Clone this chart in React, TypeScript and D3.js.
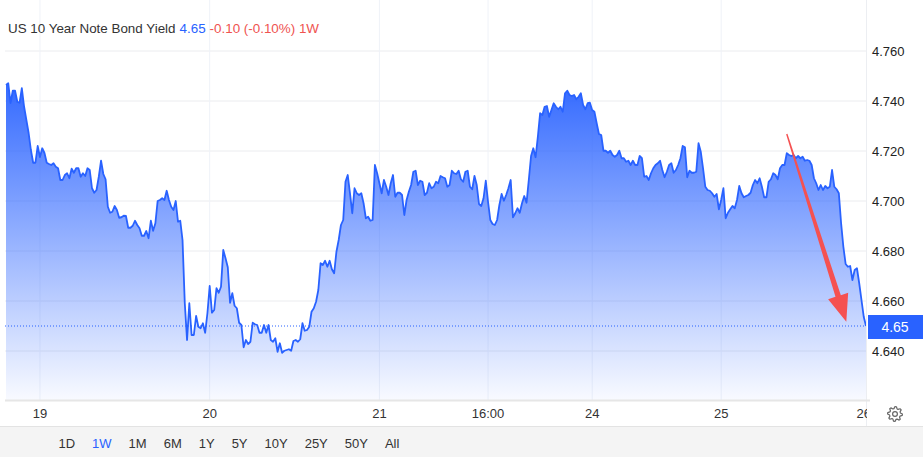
import React from 'react';
import * as d3 from 'd3';

const svgWidth = 923;
const svgHeight = 457;
const plot = { left: 5, right: 866, top: 0, bottom: 400 };
const FONT = "Arial, 'Liberation Sans', sans-serif";

// US 10Y yield, one week of intraday readings (oldest first)
const yields = [
  4.7464, 4.7471, 4.7392, 4.7441, 4.7441, 4.7397, 4.7393, 4.7451, 4.7377, 4.7324,
  4.7272, 4.7204, 4.7153, 4.7153, 4.722, 4.7176, 4.7211, 4.7192, 4.7153, 4.7148,
  4.7144, 4.7151, 4.7137, 4.7131, 4.7084, 4.7084, 4.7104, 4.7111, 4.7091, 4.7129,
  4.7113, 4.7131, 4.7131, 4.7097, 4.7111, 4.71, 4.7131, 4.7124, 4.7051, 4.7033,
  4.7044, 4.7097, 4.7161, 4.7108, 4.7087, 4.6977, 4.6953, 4.6957, 4.698, 4.6964,
  4.6933, 4.6935, 4.6941, 4.694, 4.6893, 4.6893, 4.6901, 4.6921, 4.6904, 4.6891,
  4.6861, 4.6861, 4.688, 4.6851, 4.6921, 4.6881, 4.6911, 4.7, 4.7004, 4.7011,
  4.7004, 4.7041, 4.7004, 4.6977, 4.6964, 4.7, 4.6917, 4.6921, 4.6844, 4.6591,
  4.6444, 4.6591, 4.6464, 4.6464, 4.654, 4.6497, 4.6491, 4.6511, 4.6473, 4.6551,
  4.666, 4.6553, 4.6564, 4.6651, 4.6633, 4.6657, 4.6804, 4.6771, 4.6735, 4.6593,
  4.6631, 4.6581, 4.6571, 4.6513, 4.6504, 4.6415, 4.6444, 4.6428, 4.6437, 4.6513,
  4.6507, 4.6504, 4.6473, 4.6473, 4.6504, 4.6473, 4.6504, 4.6444, 4.6437, 4.6451,
  4.6397, 4.6431, 4.6393, 4.6401, 4.6404, 4.6407, 4.6401, 4.644, 4.6444, 4.6437,
  4.6447, 4.6511, 4.6481, 4.6484, 4.6497, 4.6557, 4.6571, 4.6597, 4.6644, 4.6751,
  4.6744, 4.6761, 4.6737, 4.6761, 4.6727, 4.6711, 4.6797, 4.6844, 4.6904, 4.6924,
  4.7077, 4.7104, 4.7031, 4.6951, 4.7051, 4.7031, 4.7024, 4.7031, 4.6991, 4.6931,
  4.6937, 4.6921, 4.6924, 4.7144, 4.7111, 4.7071, 4.7031, 4.7084, 4.7057, 4.7024,
  4.7071, 4.7104, 4.7017, 4.7033, 4.7033, 4.7024, 4.6944, 4.7004, 4.7037, 4.7064,
  4.7117, 4.7121, 4.7064, 4.7081, 4.7077, 4.7024, 4.7033, 4.7071, 4.7051, 4.7057,
  4.7077, 4.7071, 4.71, 4.7095, 4.7091, 4.7057, 4.7064, 4.7121, 4.7111, 4.7108,
  4.7121, 4.7087, 4.7077, 4.7117, 4.7121, 4.7057, 4.7047, 4.71, 4.7064, 4.6988,
  4.698, 4.7011, 4.7081, 4.6997, 4.6924, 4.6908, 4.6904, 4.6924, 4.6984, 4.7028,
  4.7001, 4.7024, 4.7051, 4.7084, 4.6935, 4.6951, 4.6971, 4.6953, 4.6991, 4.702,
  4.6993, 4.7084, 4.718, 4.7211, 4.7175, 4.7257, 4.7351, 4.7344, 4.7377, 4.738,
  4.7337, 4.7364, 4.7391, 4.7377, 4.7367, 4.7377, 4.7357, 4.7431, 4.7441, 4.7424,
  4.742, 4.7424, 4.7407, 4.7417, 4.7431, 4.7384, 4.7367, 4.7391, 4.7393, 4.7364,
  4.7357, 4.7311, 4.7268, 4.7264, 4.7201, 4.7201, 4.7193, 4.7201, 4.7184, 4.7177,
  4.7184, 4.7201, 4.7171, 4.7171, 4.7157, 4.7161, 4.7144, 4.7161, 4.7144, 4.7144,
  4.718, 4.7171, 4.7097, 4.71, 4.7084, 4.7111, 4.7131, 4.7144, 4.7151, 4.7161,
  4.7124, 4.7095, 4.7117, 4.7144, 4.7151, 4.7113, 4.7124, 4.7144, 4.7171, 4.722,
  4.7215, 4.7095, 4.7121, 4.7113, 4.7113, 4.7117, 4.7231, 4.7197, 4.7131, 4.7057,
  4.7044, 4.7041, 4.7031, 4.7017, 4.7028, 4.6967, 4.7004, 4.7051, 4.6931, 4.6953,
  4.6967, 4.698, 4.6971, 4.7004, 4.706, 4.7031, 4.7015, 4.702, 4.7024, 4.7033,
  4.7064, 4.7084, 4.7071, 4.7091, 4.7057, 4.7015, 4.7015, 4.7077, 4.7087, 4.7111,
  4.7104, 4.7087, 4.7131, 4.7144, 4.7144, 4.7191, 4.7184, 4.718, 4.7184, 4.7171,
  4.718, 4.7171, 4.7177, 4.7161, 4.7164, 4.7161, 4.7144, 4.7091, 4.7071, 4.7044,
  4.7064, 4.7044, 4.706, 4.7051, 4.7057, 4.7124, 4.7057, 4.7047, 4.7031, 4.6911,
  4.6817, 4.6748, 4.6737, 4.674, 4.6684, 4.6724, 4.6731, 4.6671, 4.6604, 4.6537,
  4.65,
];

// time axis: index of the reading where each label falls
const xTickIdx = [15, 90, 165, 213, 259, 316, 379];
const xTickLabels = ['19', '20', '21', '16:00', '24', '25', '26'];
const yTicks = [4.64, 4.66, 4.68, 4.7, 4.72, 4.74, 4.76];

const title = 'US 10 Year Note Bond Yield';
const lastLabel = '4.65';
const changeLabel = '-0.10 (-0.10%) 1W';
const lastValue = 4.65;

const ranges = ['1D', '1W', '1M', '6M', '1Y', '5Y', '10Y', '25Y', '50Y', 'All'];
const activeRange = '1W';

// red annotation arrow, anchored in data space: [index, yield]
const arrowFrom: [number, number] = [345, 4.7268];
const arrowTo: [number, number] = [371.3, 4.6517];

const BLUE = '#2962ff';
const RED = '#ef5350';

function textWidth(s: string, size: number) {
  const c = document.createElement('canvas').getContext('2d');
  if (!c) return s.length * size * 0.55;
  c.font = `${size}px Arial, 'Liberation Sans', sans-serif`;
  return c.measureText(s).width;
}

function gearPath(cx: number, cy: number) {
  const teeth = 8;
  const pts: string[] = [];
  for (let i = 0; i < teeth * 4; i++) {
    const a = (i / (teeth * 4)) * Math.PI * 2;
    const r = i % 4 < 2 ? 7.4 : 5.5;
    pts.push(`${cx + r * Math.cos(a)},${cy + r * Math.sin(a)}`);
  }
  return 'M' + pts.join('L') + 'Z';
}

const App: React.FC = () => {
  const xScale = d3
    .scaleLinear()
    .domain([0, yields.length - 1])
    .range([6, 866]);

  const yScale = d3
    .scaleLinear()
    .domain([4.6204, 4.7804])
    .range([plot.bottom, plot.top]);

  const area = d3
    .area<number>()
    .x((_, i) => xScale(i))
    .y0(plot.bottom)
    .y1((d) => yScale(d));

  const line = d3
    .line<number>()
    .x((_, i) => xScale(i))
    .y((d) => yScale(d));

  const topY = yScale(d3.max(yields) as number);

  // arrow geometry
  const ax0 = xScale(arrowFrom[0]);
  const ay0 = yScale(arrowFrom[1]);
  const ax1 = xScale(arrowTo[0]);
  const ay1 = yScale(arrowTo[1]);
  const len = Math.hypot(ax1 - ax0, ay1 - ay0);
  const ux = (ax1 - ax0) / len;
  const uy = (ay1 - ay0) / len;
  const px = -uy;
  const py = ux;
  const headLen = 27;
  const headHalf = 10.5;
  const bx = ax1 - ux * headLen;
  const by = ay1 - uy * headLen;
  const arrowPts = [
    [ax0 + px * 0.7, ay0 + py * 0.7],
    [bx + px * 2.8, by + py * 2.8],
    [bx + px * headHalf, by + py * headHalf],
    [ax1, ay1],
    [bx - px * headHalf, by - py * headHalf],
    [bx - px * 2.8, by - py * 2.8],
    [ax0 - px * 0.7, ay0 - py * 0.7],
  ];

  // range selector layout
  const pad = 8.5;
  let cursor = 50;
  const rangeItems = ranges.map((r) => {
    const w = textWidth(r, 13);
    const cx = cursor + pad + w / 2;
    cursor += w + pad * 2;
    return { r, cx };
  });

  const priceY = yScale(lastValue);

  return (
    <svg
      width={svgWidth}
      height={svgHeight}
      style={{ position: 'absolute', left: 0, top: 0, background: '#fff' }}
      fontFamily={FONT}
    >
      <defs>
        <linearGradient id="fillGrad" gradientUnits="userSpaceOnUse" x1="0" y1={topY} x2="0" y2={plot.bottom}>
          <stop offset="0%" stopColor={BLUE} stopOpacity={0.95} />
          <stop offset="100%" stopColor={BLUE} stopOpacity={0.03} />
        </linearGradient>
        <clipPath id="plotClip">
          <rect x={0} y={0} width={plot.right + 1} height={svgHeight} />
        </clipPath>
      </defs>

      {/* grid */}
      {yTicks.map((t) => (
        <line key={t} x1={plot.left} x2={plot.right} y1={yScale(t)} y2={yScale(t)} stroke="#ebecef" strokeWidth={1} />
      ))}
      {xTickIdx.slice(0, -1).map((t) => (
        <line key={t} x1={xScale(t)} x2={xScale(t)} y1={plot.top} y2={plot.bottom} stroke="#eff2f8" strokeWidth={1} />
      ))}

      {/* series */}
      <path d={area(yields) || ''} fill="url(#fillGrad)" />
      <path d={line(yields) || ''} fill="none" stroke={BLUE} strokeWidth={1.8} strokeLinejoin="round" />

      {/* last price line */}
      <line x1={plot.left} x2={plot.right} y1={priceY} y2={priceY} stroke={BLUE} strokeWidth={1} strokeDasharray="1 2" />

      {/* arrow */}
      <polygon points={arrowPts.map((p) => p.join(',')).join(' ')} fill="#f55151" />

      {/* title */}
      <text x={8} y={28} fontSize={13.4} dominantBaseline="central">
        <tspan fill="#333">{title}</tspan>
        <tspan fill={BLUE} dx={4}>{lastLabel}</tspan>
        <tspan fill={RED} dx={4}>{changeLabel}</tspan>
      </text>

      {/* right axis */}
      <line x1={866.5} x2={866.5} y1={0} y2={426} stroke="#eceef2" strokeWidth={1} />
      {yTicks.map((t) => (
        <text key={t} x={872} y={yScale(t)} fontSize={13} fill="#222" dominantBaseline="central">
          {t.toFixed(3)}
        </text>
      ))}
      <rect x={868} y={priceY - 11} width={55} height={24} fill={BLUE} />
      <text x={895} y={priceY + 1} fontSize={14} fill="#fff" textAnchor="middle" dominantBaseline="central">
        {lastLabel}
      </text>

      {/* bottom axis */}
      <line x1={plot.left} x2={870} y1={400.5} y2={400.5} stroke="#e6e6e6" strokeWidth={2} />
      <g clipPath="url(#plotClip)">
        {xTickIdx.map((t, i) => (
          <text key={t} x={xScale(t)} y={413} fontSize={13} fill="#333" textAnchor="middle" dominantBaseline="central">
            {xTickLabels[i]}
          </text>
        ))}
      </g>
      <path d={gearPath(895, 414)} fill="none" stroke="#666" strokeWidth={1.2} strokeLinejoin="round" />
      <circle cx={895} cy={414} r={2.4} fill="none" stroke="#666" strokeWidth={1.2} />

      {/* range selector */}
      <rect x={0} y={426} width={svgWidth} height={svgHeight - 426} fill="#f4f4f4" />
      <line x1={0} x2={svgWidth} y1={426.5} y2={426.5} stroke="#e3e3e3" strokeWidth={1} />
      {rangeItems.map(({ r, cx }) => (
        <text
          key={r}
          x={cx}
          y={443}
          fontSize={13}
          fill={r === activeRange ? BLUE : '#333'}
          textAnchor="middle"
          dominantBaseline="central"
        >
          {r}
        </text>
      ))}
    </svg>
  );
};

export default App;
